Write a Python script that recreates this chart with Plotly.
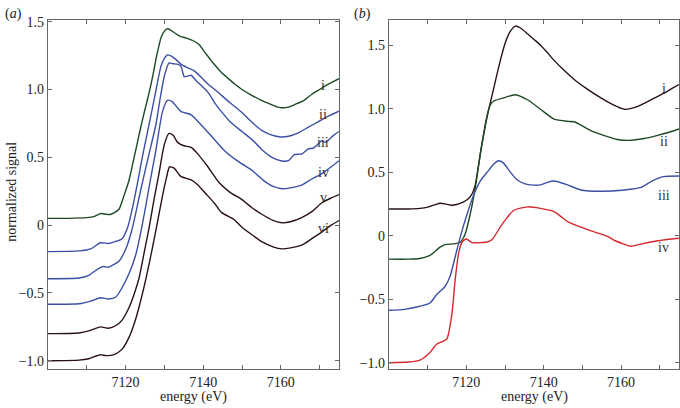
import plotly.graph_objects as go

# ---------------- panel (a) ----------------
a_i_x = [7100, 7105, 7110, 7112, 7113.5, 7115, 7116, 7117, 7118.3, 7119.5, 7120.9, 7122.2, 7123.5, 7124.8,
         7126.1, 7127, 7127.8, 7128.5, 7129.1, 7130, 7130.8, 7131.5, 7132.5, 7133.5, 7134.3, 7135.5, 7136.9,
         7138, 7139, 7140, 7141.2, 7143, 7144.7, 7146.5, 7148.1, 7150, 7152.5, 7155, 7157, 7159, 7160.5,
         7162, 7163.7, 7166, 7168, 7170, 7172, 7175]
a_i_y = [0.05, 0.05, 0.055, 0.065, 0.085, 0.08, 0.078, 0.09, 0.117, 0.21, 0.333, 0.50, 0.67, 0.83,
         0.98, 1.1, 1.22, 1.31, 1.38, 1.43, 1.448, 1.44, 1.42, 1.40, 1.39, 1.38, 1.365,
         1.35, 1.33, 1.29, 1.245, 1.18, 1.125, 1.08, 1.04, 1.0, 0.957, 0.92, 0.895, 0.872, 0.865,
         0.87, 0.89, 0.92, 0.965, 1.0, 1.035, 1.08]

a_ii_x = [7100, 7108, 7111, 7113.5, 7115.5, 7117.5, 7119.1, 7120.5, 7121.7, 7123, 7124.3, 7125.6, 7126.9,
          7128, 7129.1, 7130, 7130.8, 7131.8, 7133, 7134.3, 7136, 7137.7, 7139.5, 7141.2, 7143, 7144.7,
          7147, 7150, 7152.5, 7155, 7157.5, 7160, 7162, 7164.5, 7167, 7169.5, 7172, 7175]
a_ii_y = [-0.195, -0.19, -0.175, -0.13, -0.135, -0.12, -0.10, -0.02, 0.117, 0.30, 0.50, 0.68, 0.86,
          1.02, 1.17, 1.23, 1.255, 1.245, 1.22, 1.185, 1.16, 1.137, 1.09, 1.04, 1.0, 0.957,
          0.9, 0.83, 0.76, 0.7, 0.665, 0.65, 0.655, 0.68, 0.72, 0.76, 0.80, 0.84]

a_iii_x = [7100, 7108, 7110.5, 7113, 7114.2, 7115.6, 7117, 7118.3, 7120, 7121.7, 7123, 7124.3, 7126,
           7127.8, 7129, 7130, 7131.2, 7132.2, 7133.5, 7134.3, 7135.1, 7136.2, 7136.9, 7138.2, 7141.2,
           7143, 7144.7, 7147, 7150, 7152.5, 7155, 7157.7, 7160.3, 7162, 7163.5, 7165.5, 7167, 7168.5,
           7170.5, 7171.5, 7173.5, 7175]
a_iii_y = [-0.395, -0.39, -0.37, -0.32, -0.305, -0.31, -0.29, -0.266, -0.18, -0.027, 0.14, 0.31, 0.52,
           0.74, 0.95, 1.10, 1.196, 1.19, 1.185, 1.17, 1.095, 1.10, 1.105, 1.065, 0.98,
           0.90, 0.837, 0.76, 0.69, 0.633, 0.56, 0.50, 0.473, 0.475, 0.52, 0.525, 0.56, 0.57,
           0.62, 0.61, 0.66, 0.69]

a_iv_x = [7100, 7108, 7111, 7113.5, 7115.6, 7117.5, 7119.1, 7121, 7122.6, 7124, 7125.2, 7126.5, 7127.8,
          7129.5, 7130.8, 7132, 7133.5, 7134.3, 7136.9, 7139, 7142.1, 7145.5, 7149, 7152.5, 7155.5,
          7158, 7160.3, 7162.5, 7165.5, 7168, 7170.6, 7173, 7175]
a_iv_y = [-0.583, -0.58, -0.56, -0.535, -0.545, -0.53, -0.46, -0.35, -0.22, -0.04, 0.142, 0.35, 0.55,
          0.837, 0.92, 0.91, 0.86, 0.837, 0.813, 0.753, 0.657, 0.549, 0.47, 0.405, 0.33,
          0.285, 0.268, 0.275, 0.297, 0.34, 0.38, 0.43, 0.475]

a_v_x = [7100, 7108, 7110.5, 7113.5, 7115.6, 7117.5, 7119.1, 7121, 7122.3, 7123.5, 7124.8, 7126, 7127.4,
         7128.6, 7130, 7131.2, 7132.3, 7133.4, 7135, 7136.9, 7138.6, 7141.2, 7144.2, 7147, 7149.9,
         7152.5, 7155.1, 7158, 7160.3, 7162.5, 7165.5, 7168, 7170.6, 7173, 7175]
a_v_y = [-0.80, -0.795, -0.78, -0.75, -0.76, -0.74, -0.70, -0.60, -0.50, -0.386, -0.2, -0.027, 0.2,
         0.38, 0.597, 0.676, 0.66, 0.61, 0.585, 0.573, 0.525, 0.43, 0.31, 0.24, 0.19,
         0.13, 0.08, 0.035, 0.017, 0.025, 0.058, 0.10, 0.165, 0.2, 0.225]

a_vi_x = [7100, 7108, 7110.5, 7113.5, 7115, 7117, 7119.1, 7121, 7122.3, 7123.5, 7125.2, 7126.9, 7128.2,
          7129.5, 7130.6, 7131.3, 7132.5, 7133.6, 7134.3, 7136.9, 7138.5, 7140.5, 7143, 7144.7, 7148,
          7149.9, 7153, 7155.1, 7158, 7160.3, 7162.5, 7165.5, 7168, 7170.6, 7173, 7175]
a_vi_y = [-1.0, -0.995, -0.985, -0.955, -0.962, -0.955, -0.914, -0.82, -0.72, -0.60, -0.40, -0.17, 0.02,
          0.214, 0.357, 0.43, 0.42, 0.38, 0.357, 0.333, 0.30, 0.237, 0.158, 0.094, 0.04,
          -0.014, -0.08, -0.122, -0.16, -0.175, -0.168, -0.146, -0.10, -0.05, 0.0, 0.034]

# ---------------- panel (b) ----------------
b_i_x = [7100, 7105, 7108, 7110, 7112, 7113.2, 7114.5, 7116, 7117.5, 7119.3, 7120.5, 7121.5, 7122.3,
         7123.8, 7125.4, 7127, 7128.8, 7130.2, 7131.4, 7132.7, 7134, 7135.8, 7137.5, 7139.2, 7141,
         7142.7, 7145, 7147.9, 7151, 7154.8, 7158, 7160.9, 7162.4, 7164.5, 7166.5, 7168.7, 7171, 7173, 7175]
b_i_y = [0.21, 0.21, 0.215, 0.225, 0.245, 0.255, 0.25, 0.24, 0.245, 0.266, 0.29, 0.33, 0.40,
         0.68, 0.94, 1.15, 1.38, 1.53, 1.61, 1.65, 1.635, 1.59, 1.545, 1.50, 1.44,
         1.38, 1.31, 1.23, 1.16, 1.085, 1.03, 0.995, 1.0, 1.02, 1.05, 1.085, 1.12, 1.155, 1.19]

b_ii_x = [7100, 7105, 7108, 7110.6, 7113.2, 7114.5, 7116.7, 7118.4, 7119.7, 7121, 7122.3, 7123.8,
          7125.4, 7126.2, 7127.1, 7129.7, 7132.7, 7135.8, 7139.2, 7142.7, 7146.2, 7147.9, 7152.2,
          7155.5, 7159.1, 7162, 7166, 7169.5, 7172, 7175]
b_ii_y = [-0.185, -0.185, -0.18, -0.155, -0.09, -0.07, -0.065, -0.052, 0.013, 0.17, 0.375, 0.68,
          0.95, 1.03, 1.06, 1.085, 1.11, 1.07, 0.995, 0.917, 0.9, 0.897, 0.827,
          0.79, 0.757, 0.75, 0.765, 0.79, 0.81, 0.84]

b_iii_x = [7100, 7104, 7108, 7110.6, 7112.3, 7114.5, 7115.8, 7117.1, 7118.4, 7120.2, 7121.9, 7123.6,
           7125.4, 7127, 7128.3, 7129.5, 7131.4, 7133.1, 7135, 7136.6, 7139.2, 7141, 7142.7, 7146.2,
           7149.6, 7154.8, 7160.9, 7165.2, 7168, 7171, 7175]
b_iii_y = [-0.587, -0.58, -0.556, -0.53, -0.465, -0.40, -0.32, -0.168, -0.013, 0.17, 0.32, 0.43,
           0.50, 0.56, 0.59, 0.575, 0.50, 0.44, 0.41, 0.40, 0.40, 0.42, 0.43, 0.40,
           0.36, 0.35, 0.36, 0.38, 0.43, 0.465, 0.47]

b_iv_x = [7100, 7105, 7108, 7110.6, 7112.3, 7114.1, 7115, 7116.3, 7117.1, 7118, 7118.9, 7120,
          7121.5, 7123.5, 7125.4, 7126.7, 7128.8, 7130.5, 7132.3, 7135.8, 7139.2, 7142.7, 7144.5,
          7146.2, 7151.4, 7156.5, 7158.5, 7162.6, 7164.6, 7169.5, 7175]
b_iv_y = [-1.0, -0.995, -0.98, -0.92, -0.855, -0.83, -0.81, -0.61, -0.35, -0.14, -0.05, -0.026,
          -0.055, -0.055, -0.05, -0.03, 0.07, 0.14, 0.20, 0.227, 0.215, 0.19, 0.15,
          0.11, 0.047, -0.005, -0.04, -0.083, -0.07, -0.04, -0.02]

# labels
a_labels = ["i", "ii", "iii", "iv", "v", "vi"]
a_label_y = [1.03, 0.818, 0.61, 0.39, 0.20, -0.027]
b_labels = ["i", "ii", "iii", "iv"]
b_label_y = [1.16, 0.74, 0.32, -0.095]
label_x = 7171

GREEN = "#1d4a24"
BLUE = "#3c4fa6"
BROWN = "#2b1212"
RED = "#d4282e"

FONT = "Liberation Serif, Times New Roman, serif"

fig = go.Figure()

a_series = [(a_i_x, a_i_y, GREEN), (a_ii_x, a_ii_y, BLUE), (a_iii_x, a_iii_y, BLUE),
            (a_iv_x, a_iv_y, BLUE), (a_v_x, a_v_y, BROWN), (a_vi_x, a_vi_y, BROWN)]
for xs, ys, c in a_series:
    fig.add_trace(go.Scatter(x=xs, y=ys, mode="lines", xaxis="x", yaxis="y",
                             line=dict(color=c, width=1.4, shape="spline", smoothing=0.6),
                             showlegend=False, hoverinfo="skip"))

b_series = [(b_i_x, b_i_y, BROWN), (b_ii_x, b_ii_y, GREEN), (b_iii_x, b_iii_y, BLUE),
            (b_iv_x, b_iv_y, RED)]
for xs, ys, c in b_series:
    fig.add_trace(go.Scatter(x=xs, y=ys, mode="lines", xaxis="x2", yaxis="y2",
                             line=dict(color=c, width=1.4, shape="spline", smoothing=0.6),
                             showlegend=False, hoverinfo="skip"))

annotations = []
for t, yv in zip(a_labels, a_label_y):
    annotations.append(dict(x=label_x, y=yv, xref="x", yref="y", text=t, showarrow=False,
                            xanchor="center", yanchor="middle",
                            font=dict(family=FONT, size=14, color="#333")))
for t, yv in zip(b_labels, b_label_y):
    annotations.append(dict(x=label_x, y=yv, xref="x2", yref="y2", text=t, showarrow=False,
                            xanchor="center", yanchor="middle",
                            font=dict(family=FONT, size=14, color="#333")))

annotations += [
    dict(x=3 / 680, y=1 - 9 / 408, xref="paper", yref="paper", text="(<i>a</i>)", showarrow=False,
         xanchor="left", yanchor="middle", font=dict(family=FONT, size=14, color="#222")),
    dict(x=352 / 680, y=1 - 9 / 408, xref="paper", yref="paper", text="(<i>b</i>)", showarrow=False,
         xanchor="left", yanchor="middle", font=dict(family=FONT, size=14, color="#222")),
    dict(x=12 / 680, y=1 - 190 / 408, xref="paper", yref="paper", text="normalized signal",
         showarrow=False, textangle=-90, xanchor="center", yanchor="middle",
         font=dict(family=FONT, size=14, color="#222")),
    dict(x=193 / 680, y=1 - 399 / 408, xref="paper", yref="paper", text="energy (eV)",
         showarrow=False, xanchor="center", yanchor="middle",
         font=dict(family=FONT, size=14, color="#222")),
    dict(x=534 / 680, y=1 - 399 / 408, xref="paper", yref="paper", text="energy (eV)",
         showarrow=False, xanchor="center", yanchor="middle",
         font=dict(family=FONT, size=14, color="#222")),
]

xaxis_common = dict(range=[7100, 7175], tickvals=[7120, 7140, 7160], ticktext=["7120", "7140", "7160"],
                    ticks="inside", ticklen=4, tickcolor="#666", showline=True, linecolor="#666",
                    linewidth=1.2, mirror="ticks", showgrid=False, zeroline=False,
                    minor=dict(tickvals=[7110, 7130, 7150, 7170], ticks="inside", ticklen=4,
                               tickcolor="#666", showgrid=False),
                    tickfont=dict(family=FONT, size=14, color="#222"))
yaxis_common = dict(ticks="inside", ticklen=4, tickcolor="#666", showline=True, linecolor="#666",
                    linewidth=1.2, mirror="ticks", showgrid=False, zeroline=False,
                    tickvals=[-1.0, -0.5, 0, 0.5, 1.0, 1.5],
                    ticktext=["\u22121.0", "\u22120.5", "0", "0.5", "1.0", "1.5"],
                    tickfont=dict(family=FONT, size=14, color="#222"))

fig.update_layout(
    width=680, height=408,
    margin=dict(l=0, r=0, t=0, b=0),
    paper_bgcolor="white", plot_bgcolor="white",
    xaxis=dict(domain=[48 / 680, 339 / 680], anchor="y", **xaxis_common),
    yaxis=dict(domain=[1 - 370 / 408, 1 - 15 / 408], anchor="x", range=[-1.058, 1.514], **yaxis_common),
    xaxis2=dict(domain=[389 / 680, 679 / 680], anchor="y2", **xaxis_common),
    yaxis2=dict(domain=[1 - 370 / 408, 1 - 15 / 408], anchor="x2", range=[-1.047, 1.70], **yaxis_common),
    annotations=annotations,
)

fig.write_html("out.html", config={"displayModeBar": False},
               post_script="document.body.style.margin='0';document.body.style.overflow='hidden';")
